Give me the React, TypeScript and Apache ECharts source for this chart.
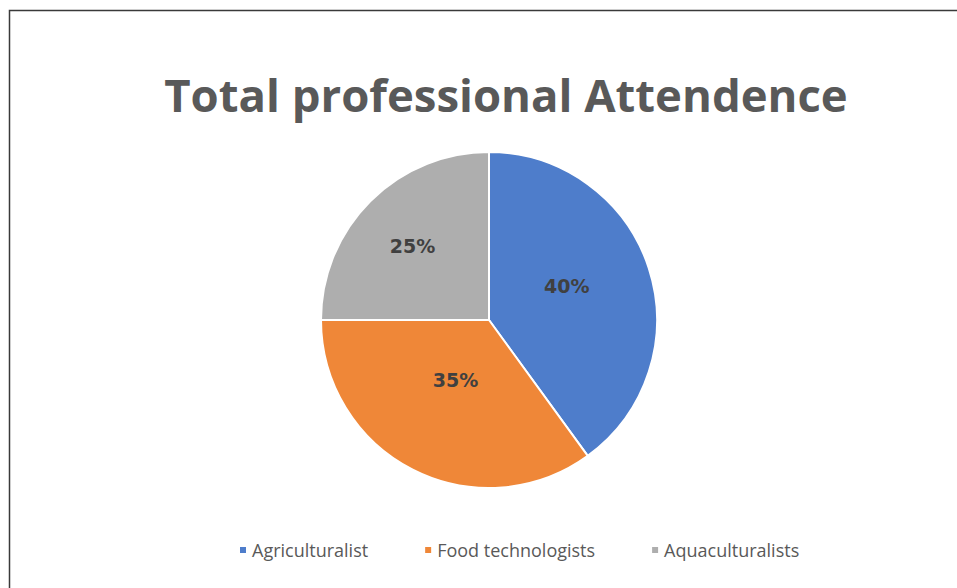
import React, { useEffect, useRef } from "react";
import * as echarts from "echarts";

const titleText = "Total professional Attendence";
const categories = ["Agriculturalist", "Food technologists", "Aquaculturalists"];
const values = [40, 35, 25];
const colors = ["#4E7DCB", "#EF8738", "#AEAEAE"];
const labelShift = [
  [-5, -7],
  [6, -18],
  [-15, -12],
];

export default function App() {
  const ref = useRef<HTMLDivElement>(null);
  useEffect(() => {
    if (!ref.current) return;
    const chart = echarts.init(ref.current, null, { renderer: "svg" });
    chart.setOption({
      animation: false,
      backgroundColor: "#ffffff",
      title: {
        text: titleText,
        left: 501,
        textAlign: "center",
        top: 66,
        textStyle: {
          fontFamily: "Open Sans",
          fontWeight: "bold",
          fontSize: 45.5,
          color: "#595959",
        },
      },
      legend: {
        data: categories,
        top: 536,
        left: 233,
        icon: "rect",
        itemWidth: 8,
        itemHeight: 8,
        itemGap: 55,
        textStyle: { fontFamily: "Open Sans", fontSize: 18, color: "#595959", padding: [0, 0, 0, 0] },
      },
      graphic: [
        {
          type: "rect",
          shape: { x: 9.5, y: 10.5, width: 1200, height: 1200 },
          style: { fill: "none", stroke: "#3a3a3a", lineWidth: 1.5 },
          silent: true,
          z: 100,
        },
      ],
      series: [
        {
          type: "pie",
          center: [489, 320],
          radius: 168,
          startAngle: 90,
          clockwise: true,
          data: categories.map((name, i) => ({
            name,
            value: values[i],
            itemStyle: { color: colors[i] },
          })),
          itemStyle: { borderColor: "#ffffff", borderWidth: 2 },
          label: {
            show: true,
            position: "inside",
            formatter: "{c}%",
            fontFamily: "DejaVu Sans",
            fontWeight: "bold",
            fontSize: 19,
            color: "#404040",
          },
          labelLayout: (p: any) => ({
            dx: labelShift[p.dataIndex][0],
            dy: labelShift[p.dataIndex][1],
          }),
          labelLine: { show: false },
          emphasis: { disabled: true },
        },
      ],
    });
    return () => chart.dispose();
  }, []);
  return (
    <div
      ref={ref}
      style={{ position: "fixed", left: 0, top: 0, width: 957, height: 588 }}
    />
  );
}
